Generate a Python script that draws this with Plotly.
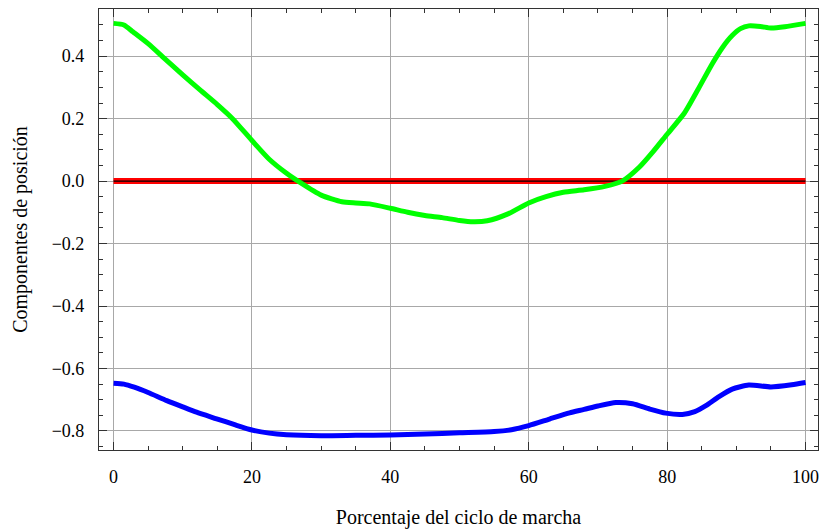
import plotly.graph_objects as go

x_green = [0, 1.5, 2.8, 5, 7.1, 10, 12.5, 15, 17.2, 20, 22.5, 25, 27, 30, 33, 35, 37, 40, 42.5, 45, 47.5, 50, 52, 54, 57, 60, 62.5, 65, 68, 71, 73.5, 76, 78, 80, 82.5, 84.5, 86.5, 88, 89.4, 90.6, 91.8, 93.5, 95, 97, 100]
y_green = [0.505, 0.5, 0.478, 0.44, 0.398, 0.34, 0.292, 0.245, 0.2, 0.13, 0.07, 0.025, -0.005, -0.045, -0.066, -0.07, -0.073, -0.087, -0.1, -0.11, -0.117, -0.126, -0.13, -0.127, -0.105, -0.07, -0.05, -0.036, -0.028, -0.017, 0.0, 0.045, 0.095, 0.15, 0.218, 0.295, 0.375, 0.428, 0.466, 0.488, 0.497, 0.495, 0.49, 0.494, 0.505]

x_blue = [0, 1.5, 3, 5, 7.7, 10, 12, 14.9, 17.5, 20, 22.5, 25, 30, 35, 40, 45, 50, 55, 57.5, 60, 63, 65.9, 68, 70, 72.6, 75, 77.5, 79.8, 82.2, 84, 85.6, 87.5, 89.4, 91.8, 95, 98, 100]
y_blue = [-0.647, -0.65, -0.66, -0.677, -0.703, -0.723, -0.74, -0.761, -0.78, -0.797, -0.807, -0.812, -0.815, -0.814, -0.813, -0.81, -0.806, -0.802, -0.796, -0.783, -0.762, -0.742, -0.731, -0.72, -0.709, -0.713, -0.73, -0.743, -0.747, -0.738, -0.719, -0.69, -0.666, -0.653, -0.659, -0.652, -0.645]

x_red = [0, 100]
y_red = [0, 0]

x_title = "Porcentaje del ciclo de marcha"
y_title = "Componentes de posición"

fig = go.Figure()
fig.add_trace(go.Scatter(x=x_red, y=y_red, mode="lines", line=dict(color="#ff0000", width=6), hoverinfo="skip"))
fig.add_trace(go.Scatter(x=x_red, y=y_red, mode="lines", line=dict(color="#000000", width=1.2), hoverinfo="skip"))
fig.add_trace(go.Scatter(x=x_green, y=y_green, mode="lines", line=dict(color="#00ff00", width=5, shape="spline", smoothing=0.6)))
fig.add_trace(go.Scatter(x=x_blue, y=y_blue, mode="lines", line=dict(color="#0000ff", width=5, shape="spline", smoothing=0.6)))

serif = "Liberation Serif"
tick_font = dict(family=serif, size=18, color="#000")
title_font = dict(family=serif, size=20, color="#000")

fig.update_layout(
    width=823, height=529,
    margin=dict(l=99, r=4, t=9, b=74),
    paper_bgcolor="white", plot_bgcolor="white",
    showlegend=False,
    font=dict(family=serif, size=18, color="#000"),
)
fig.update_xaxes(
    range=[-2.1, 101.8], tickvals=[0, 20, 40, 60, 80, 100],
    tickfont=tick_font,
    ticks="inside", ticklen=8, tickcolor="#333", tickwidth=1,
    showline=True, linecolor="#333", linewidth=1.2, mirror="allticks",
    showgrid=True, gridcolor="#a8a8a8", gridwidth=1, zeroline=False,
    minor=dict(ticks="inside", ticklen=4, dtick=5, tick0=0, tickcolor="#333", showgrid=False),
    ticklabelstandoff=10,
    title=dict(text=x_title, font=title_font, standoff=24),
)
fig.update_yaxes(
    range=[-0.861, 0.551], tickvals=[-0.8, -0.6, -0.4, -0.2, 0.0, 0.2, 0.4],
    ticktext=["\u22120.8", "\u22120.6", "\u22120.4", "\u22120.2", "0.0", "0.2", "0.4"],
    tickfont=tick_font,
    ticks="inside", ticklen=8, tickcolor="#333", tickwidth=1,
    showline=True, linecolor="#333", linewidth=1.2, mirror="allticks",
    showgrid=True, gridcolor="#a8a8a8", gridwidth=1, zeroline=False,
    minor=dict(ticks="inside", ticklen=4, dtick=0.05, tick0=0, tickcolor="#333", showgrid=False),
    ticklabelstandoff=10,
    title=dict(text=y_title, font=title_font, standoff=18),
)

fig.write_html("out.html")
